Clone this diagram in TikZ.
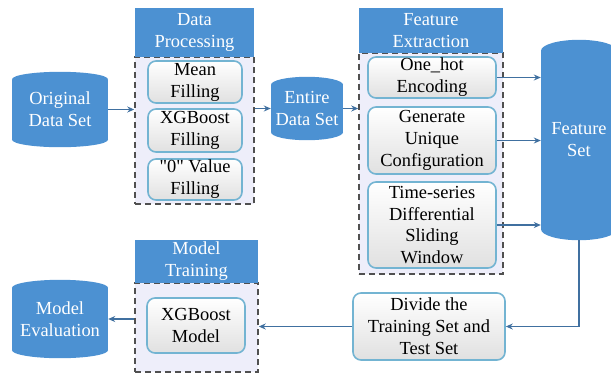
\documentclass[tikz,border=0pt]{standalone}
\usepackage{fontspec}
\setmainfont{Liberation Serif}
\usetikzlibrary{arrows.meta,backgrounds}
\definecolor{dbblue}{RGB}{76,145,210}
\definecolor{arrowblue}{RGB}{64,112,160}
\definecolor{edgeblue}{RGB}{115,180,210}
\definecolor{lavender}{RGB}{238,238,250}
\definecolor{dashgray}{RGB}{80,80,80}
\tikzset{
	db/.style={rectangle, fill=dbblue, text=white, align=center, inner sep=0pt},
	head/.style={rectangle, fill=dbblue, text=white, align=center, inner sep=0pt},
	group/.style={rectangle, draw=dashgray, fill=lavender, line width=1.5bp, dash pattern=on 6bp off 4bp, inner sep=0pt},
	task/.style={rectangle, rounded corners=8bp, draw=edgeblue, line width=1.6bp, top color=white, bottom color=black!12, align=center, inner sep=0pt},
	arr/.style={draw=arrowblue, line width=1.3bp, -{Stealth[length=7bp,width=6bp]}}
}
% round ends of a cylinder node: (name)(x radius:y radius)
\def\dbcaps(#1)(#2:#3){\begin{pgfonlayer}{background}\fill[dbblue] (#1.north) ellipse [x radius=#2, y radius=#3]; \fill[dbblue] (#1.south) ellipse [x radius=#2, y radius=#3];\end{pgfonlayer}}

\begin{document}
\begin{tikzpicture}[x=1bp, y=-1bp, font=\rmfamily\fontsize{18.5}{22}\selectfont]
		%%%%% START %%%%%
		\useasboundingbox (0,0) rectangle (611,374);
		\clip (0,0) rectangle (611,374);
		
		\node[db, minimum width=96bp, minimum height=60bp] (orig) at (60,109.5) {Original\\Data Set};
		\dbcaps(orig)(48bp:7.5bp)
		
		% data processing
		\node[group, minimum width=119bp, minimum height=147bp] (dpbox) at (194.5,130.5) {};
		\node[head, minimum width=119bp, minimum height=49bp] (dphead) at (194.5,32.5) {Data\\Processing};
		\node[task, minimum width=94bp, minimum height=42bp] (mean) at (195,82) {Mean\\Filling};
		\node[task, minimum width=94bp, minimum height=43bp] (xgbfill) at (195,130.5) {XGBoost\\Filling};
		\node[task, minimum width=94bp, minimum height=41bp] (zerofill) at (195,179.5) {\textquotedbl0\textquotedbl{} Value\\Filling};
		
		\node[db, minimum width=72bp, minimum height=47bp] (entire) at (307,108.5) {Entire\\Data Set};
		\dbcaps(entire)(36bp:8bp)
		
		% feature extraction
		\node[group, minimum width=144bp, minimum height=221bp] (febox) at (431,163.5) {};
		\node[head, minimum width=144bp, minimum height=45bp] (fehead) at (431,30.5) {Feature\\Extraction};
		\node[task, minimum width=128bp, minimum height=41bp] (onehot) at (432,77.5) {One\_hot\\Encoding};
		\node[task, minimum width=128bp, minimum height=67bp] (unique) at (432,140.5) {Generate\\Unique\\Configuration};
		\node[task, minimum width=128bp, minimum height=86bp] (window) at (432,225) {Time-series\\Differential\\Sliding\\Window};
		
		\node[db, minimum width=76bp, minimum height=178bp] (fs) at (579,140) {Feature\\Set};
		\dbcaps(fs)(38bp:11bp)
		
		\node[task, minimum width=152bp, minimum height=67bp] (divide) at (429,326.5) {Divide the\\Training Set and\\Test Set};
		
		% model training
		\node[group, minimum width=123bp, minimum height=89bp] (mtbox) at (196.5,327.5) {};
		\node[head, minimum width=123bp, minimum height=43bp] (mthead) at (196.5,261.5) {Model\\Training};
		\node[task, minimum width=98bp, minimum height=55bp] (xgbmodel) at (196,325.5) {XGBoost\\Model};
		
		\node[db, minimum width=96bp, minimum height=62bp] (meval) at (60,319) {Model\\Evaluation};
		\dbcaps(meval)(48bp:8bp)
		
		\draw[arr] (orig.east) -- (dpbox.west |- orig.east);
		\draw[arr] (dpbox.east |- entire.west) -- (entire.west);
		\draw[arr] (entire.east) -- (febox.west |- entire.east);
		\draw[arr] (onehot.east) -- (fs.west |- onehot.east);
		\draw[arr] (unique.east) -- (fs.west |- unique.east);
		\draw[arr] (window.east) -- (fs.west |- window.east);
		\draw[arr, shorten <=11bp] (fs.south) |- (divide.east);
		\draw[arr] (divide.west) -- (mtbox.east |- divide.west);
		\draw[arr] (mtbox.west |- meval.east) -- (meval.east);
		%%%%% END %%%%%
\end{tikzpicture}
\end{document}
